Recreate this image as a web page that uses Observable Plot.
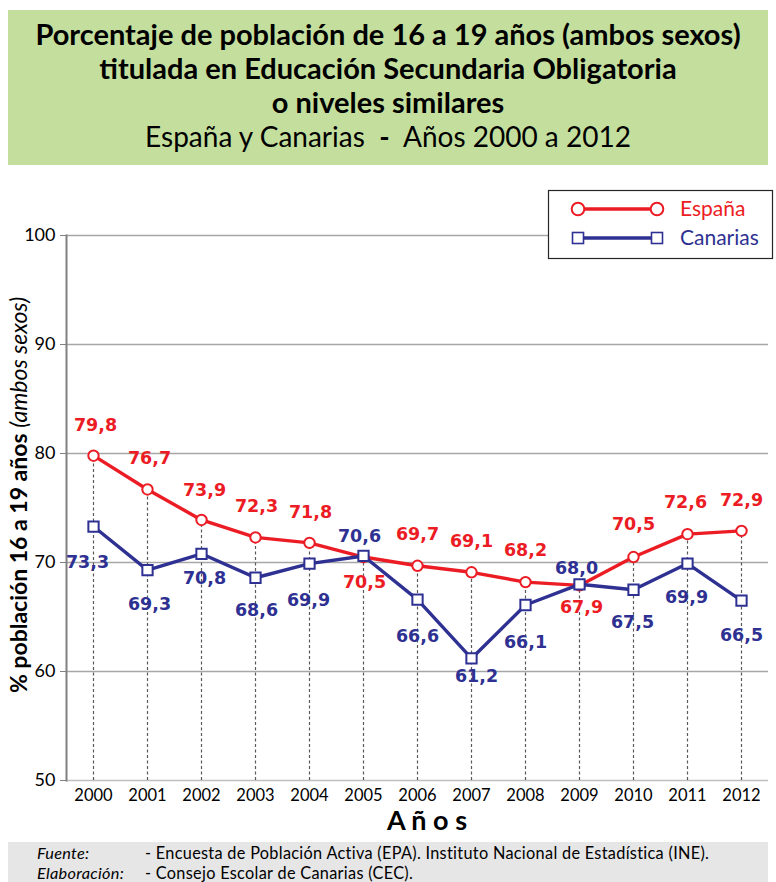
<!DOCTYPE html>
<html><head><meta charset="utf-8">
<script src="https://cdn.jsdelivr.net/npm/d3@7"></script>
<script src="https://cdn.jsdelivr.net/npm/@observablehq/plot@0.6"></script>
<style>
body{margin:0;background:#fff;}
#wrap{position:relative;width:776px;height:882px;overflow:hidden;font-family:Lato,"Open Sans",sans-serif;color:#000;}
#title{position:absolute;left:8px;top:10px;width:760px;height:155px;background:#c4df9d;text-align:center;padding-top:7px;box-sizing:border-box;}
#title .t{font-weight:bold;font-size:29px;line-height:34px;white-space:pre;}
#title .s{font-size:28px;line-height:34px;white-space:pre;}
#chart{position:absolute;left:0;top:170px;}
#foot{position:absolute;left:8px;top:842px;width:760px;height:40px;background:#e6e6e6;font-size:16.3px;line-height:20px;letter-spacing:0.3px;padding-top:1px;box-sizing:border-box;}
#foot .r{position:relative;height:20px;white-space:nowrap;}
#foot .k{position:absolute;left:29px;font-style:italic;}
#foot .v{position:absolute;left:137px;}
</style></head>
<body>
<div id="wrap">
  <div id="title">
    <div class="t">Porcentaje de población de 16 a 19 años (ambos sexos)</div>
    <div class="t">titulada en Educación Secundaria Obligatoria</div>
    <div class="t">o niveles similares</div>
    <div class="s">España y Canarias  <b>-</b>  Años 2000 a 2012</div>
  </div>
  <div id="chart"></div>
  <div id="foot">
    <div class="r"><span class="k">Fuente:</span><span class="v">- Encuesta de Población Activa (EPA). Instituto Nacional de Estadística (INE).</span></div>
    <div class="r"><span class="k">Elaboración:</span><span class="v">- Consejo Escolar de Canarias (CEC).</span></div>
  </div>
</div>
<script>
const years = [2000, 2001, 2002, 2003, 2004, 2005, 2006, 2007, 2008, 2009, 2010, 2011, 2012];
const espana = [79.8, 76.7, 73.9, 72.3, 71.8, 70.5, 69.7, 69.1, 68.2, 67.9, 70.5, 72.6, 72.9];
const canarias = [73.3, 69.3, 70.8, 68.6, 69.9, 70.6, 66.6, 61.2, 66.1, 68.0, 67.5, 69.9, 66.5];
const yTicks = [50, 60, 70, 80, 90, 100];
const seriesNames = ["España", "Canarias"];

// label placement (pixel offsets from the point), kept apart from the data
const espOffsets = [[2,-30],[2,-31],[3,-30],[1,-31],[1,-30],[1,25],[0,-31],[0,-31],[0,-32],[2,22],[0,-33],[-2,-32],[0,-30]];
const canOffsets = [[-6,36],[2,34],[3,25],[1,33],[-1,37],[-4,-20],[0,37],[5,18],[0,37],[-3,-16],[-1,33],[-1,34],[0,35]];

const RED = "#ec1c24", BLUE = "#2e3192";
const FONT = "Lato, 'Open Sans', sans-serif";
const fmt = v => v.toFixed(1).replace(".", ",");

const espData = years.map((y, i) => ({year: y, value: espana[i]}));
const canData = years.map((y, i) => ({year: y, value: canarias[i]}));
const dropData = years.map((y, i) => ({year: y, top: Math.max(espana[i], canarias[i])}));

const labelMarks = (data, offsets, color) => data.map((d, i) =>
  Plot.text([d], {x: "year", y: "value", text: d => fmt(d.value), dx: offsets[i][0], dy: offsets[i][1],
    fill: color, fontSize: 17.5, fontWeight: "bold", fontFamily: "DejaVu Sans", textAnchor: "middle"}));

const chart = Plot.plot({
  width: 776, height: 670,
  marginLeft: 66, marginRight: 8, marginTop: 65, marginBottom: 60,
  style: {fontFamily: FONT, background: "transparent", color: "#000"},
  x: {type: "point", domain: years, padding: 0.5},
  y: {domain: [50, 100]},
  marks: [
    Plot.gridY(yTicks.slice(1), {stroke: "#a6a6a6", strokeOpacity: 1, strokeWidth: 1.4}),
    Plot.ruleY([50], {stroke: "#bfbfbf", strokeWidth: 1.4}),
    Plot.ruleX(dropData, {x: "year", y1: 50, y2: "top", stroke: "#595959", strokeWidth: 1.2, strokeDasharray: "3,2.5"}),
    Plot.frame({anchor: "left", stroke: "#808080", strokeWidth: 2}),
    Plot.axisY({ticks: yTicks, tickSize: 6, tickPadding: 5, fontSize: 18, stroke: "#808080", label: null, tickFormat: d => String(d)}),
    Plot.axisX({tickSize: 0, tickPadding: 9, fontSize: 16.5, label: null, tickFormat: d => String(d)}),
    Plot.line(espData, {x: "year", y: "value", stroke: RED, strokeWidth: 3.4}),
    Plot.dot(espData, {x: "year", y: "value", symbol: "circle", r: 5.2, fill: "white", stroke: RED, strokeWidth: 2}),
    Plot.line(canData, {x: "year", y: "value", stroke: BLUE, strokeWidth: 3.4}),
    Plot.dot(canData, {x: "year", y: "value", symbol: "square", r: 5.8, fill: "white", stroke: BLUE, strokeWidth: 2}),
    ...labelMarks(espData, espOffsets, RED),
    ...labelMarks(canData, canOffsets, BLUE)
  ]
});
document.getElementById("chart").appendChild(chart);

const svg = d3.select(chart);
// y axis title with mixed styles
const yl = svg.append("text")
  .attr("transform", "translate(19,325) rotate(-90)")
  .attr("text-anchor", "middle").attr("dy", "0.35em")
  .style("font-family", FONT).style("font-size", "23px").attr("fill", "#000");
yl.append("tspan").attr("font-weight", "bold").text("% población 16 a 19 años ");
yl.append("tspan").attr("font-style", "italic").text("(ambos sexos)");
// x axis title
svg.append("text").attr("x", 427).attr("y", 651).attr("dy", "0.35em").attr("text-anchor", "middle")
  .style("font-family", FONT).style("font-size", "27px").attr("font-weight", "bold")
  .attr("fill", "#000").text("A ñ o s");

// legend
const lg = svg.append("g");
lg.append("rect").attr("x", 548.5).attr("y", 20.5).attr("width", 224).attr("height", 68)
  .attr("fill", "white").attr("stroke", "#262626").attr("stroke-width", 1.2);
const items = [
  {name: seriesNames[0], color: RED, sym: "circle", y: 39},
  {name: seriesNames[1], color: BLUE, sym: "square", y: 68}
];
items.forEach(it => {
  lg.append("line").attr("x1", 578).attr("x2", 657).attr("y1", it.y).attr("y2", it.y)
    .attr("stroke", it.color).attr("stroke-width", 3.4);
  [578, 657].forEach(x => {
    if (it.sym === "circle") {
      lg.append("circle").attr("cx", x).attr("cy", it.y).attr("r", 6.3)
        .attr("fill", "white").attr("stroke", it.color).attr("stroke-width", 2);
    } else {
      lg.append("rect").attr("x", x - 5.5).attr("y", it.y - 5.5).attr("width", 11).attr("height", 11)
        .attr("fill", "white").attr("stroke", it.color).attr("stroke-width", 1.6);
    }
  });
  lg.append("text").attr("x", 680).attr("y", it.y).attr("dy", "0.35em").attr("fill", it.color)
    .attr("text-anchor", "start")
    .style("font-family", FONT).style("font-size", "21px").text(it.name);
});
</script>
</body></html>
